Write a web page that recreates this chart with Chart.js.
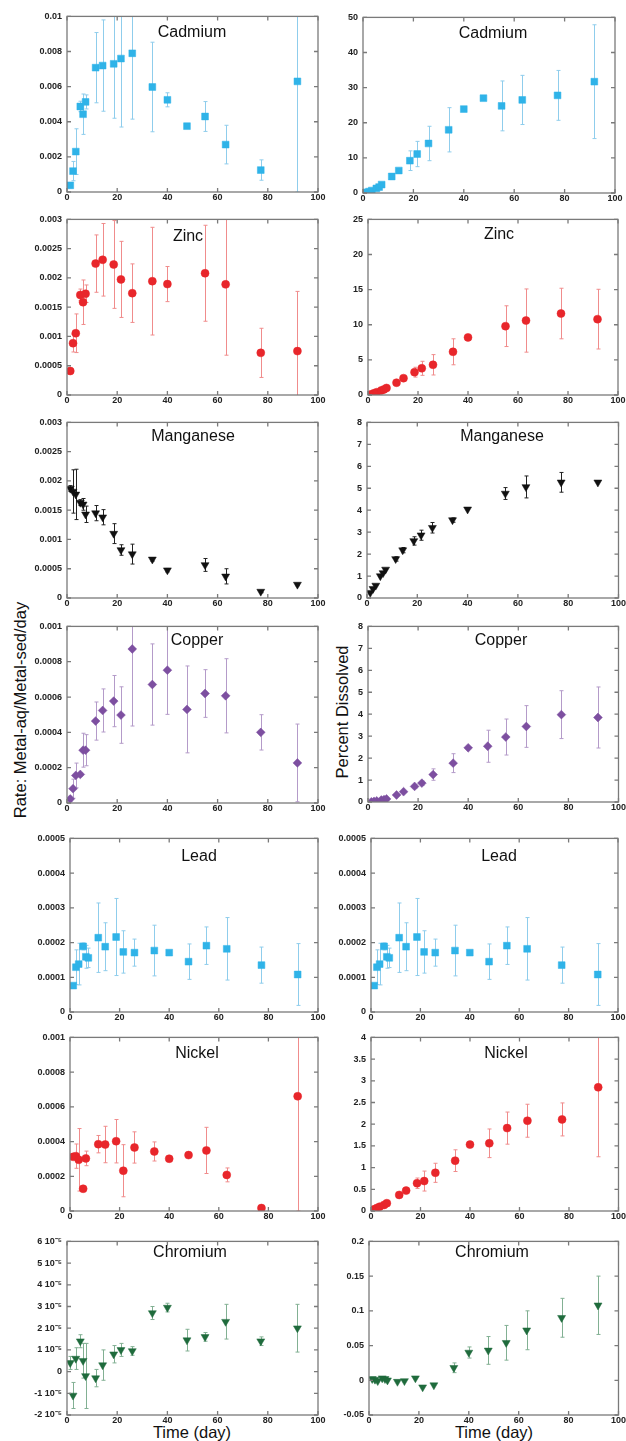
<!DOCTYPE html>
<html>
<head>
<meta charset="utf-8">
<script src="https://cdn.jsdelivr.net/npm/chart.js@4"></script>
<style>
  body { margin:0; background:#fff; width:626px; height:1441px; position:relative; overflow:hidden;
         font-family:"Liberation Sans", Arial, sans-serif; }
  .panel { position:absolute; }
  .lbl { position:absolute; color:#111; font-size:16.5px; white-space:nowrap; }
</style>
</head>
<body>
<div class="lbl" style="left:20px;top:710px;transform:translate(-50%,-50%) rotate(-90deg)">Rate: Metal-aq/Metal-sed/day</div>
<div class="lbl" style="left:342px;top:712px;transform:translate(-50%,-50%) rotate(-90deg)">Percent Dissolved</div>
<div class="lbl" style="left:192px;top:1432px;transform:translate(-50%,-50%)">Time (day)</div>
<div class="lbl" style="left:494px;top:1432px;transform:translate(-50%,-50%)">Time (day)</div>
<script>
// sampling days
const days   = [1.3, 2.4, 3.5, 5.3, 6.4, 7.4, 11.4, 14.2, 18.6, 21.5, 26, 34, 40, 47.8, 55, 63.2, 77.2, 91.8];
const days17 = [1.3, 2.4, 3.5, 5.3, 6.4, 7.4, 11.4, 14.2, 18.6, 21.5, 26, 34, 40, 55, 63.2, 77.2, 91.8];
const niDays = [1.3, 2.4, 3.5, 5.3, 6.4, 11.4, 14.2, 18.6, 21.5, 26, 34, 40, 47.8, 55, 63.2, 77.2, 91.8];

// Cadmium
const cdRate    = [0.38e-3, 1.19e-3, 2.3e-3, 4.87e-3, 4.43e-3, 5.13e-3, 7.08e-3, 7.2e-3, 7.3e-3, 7.6e-3, 7.9e-3, 5.98e-3, 5.25e-3, 3.75e-3, 4.3e-3, 2.7e-3, 1.25e-3, 6.3e-3];
const cdRateErr = [0.15e-3, 0.55e-3, 1.3e-3, 0.3e-3, 1.15e-3, 0.4e-3, 2.0e-3, 2.6e-3, 3.1e-3, 3.9e-3, 3.75e-3, 2.55e-3, 0.4e-3, 0, 0.85e-3, 1.1e-3, 0.58e-3, 6.3e-3];
const cdPct     = [0.2, 0.4, 0.7, 1.3, 1.7, 2.4, 4.7, 6.4, 9.2, 11.1, 14.1, 18.0, 23.9, 27.0, 24.8, 26.5, 27.8, 31.7];
const cdPctErr  = [0, 0, 0, 0, 0, 0, 0.3, 0.6, 2.8, 3.6, 4.9, 6.3, 0.5, 0, 7.1, 7.0, 7.1, 16.2];

// Zinc
const znRate    = [0.41e-3, 0.885e-3, 1.055e-3, 1.71e-3, 1.585e-3, 1.73e-3, 2.245e-3, 2.31e-3, 2.23e-3, 1.975e-3, 1.74e-3, 1.945e-3, 1.895e-3, 2.08e-3, 1.89e-3, 0.72e-3, 0.75e-3];
const znRateErr = [0.05e-3, 0.15e-3, 0.33e-3, 0.1e-3, 0.38e-3, 0.15e-3, 0.49e-3, 0.62e-3, 0.75e-3, 0.65e-3, 0.5e-3, 0.92e-3, 0.3e-3, 0.82e-3, 1.21e-3, 0.42e-3, 1.02e-3];
const znPct     = [0.1, 0.25, 0.4, 0.65, 0.8, 1.0, 1.75, 2.4, 3.25, 3.8, 4.3, 6.15, 8.2, 9.8, 10.6, 11.6, 10.8];
const znPctErr  = [0, 0, 0, 0, 0, 0, 0.2, 0.3, 0.7, 1.0, 1.45, 1.85, 0, 2.9, 4.5, 3.6, 4.25];

// Manganese
const mnRate    = [1.87e-3, 1.82e-3, 1.77e-3, 1.63e-3, 1.6e-3, 1.43e-3, 1.45e-3, 1.38e-3, 1.1e-3, 0.82e-3, 0.75e-3, 0.66e-3, 0.475e-3, 0.565e-3, 0.37e-3, 0.11e-3, 0.23e-3];
const mnRateErr = [0.05e-3, 0.37e-3, 0.43e-3, 0.05e-3, 0.1e-3, 0.14e-3, 0.13e-3, 0.13e-3, 0.17e-3, 0.09e-3, 0.17e-3, 0.03e-3, 0.03e-3, 0.11e-3, 0.13e-3, 0.02e-3, 0.02e-3];
const mnPct     = [0.24, 0.42, 0.57, 1.0, 1.14, 1.3, 1.78, 2.18, 2.6, 2.86, 3.2, 3.55, 4.04, 4.76, 5.06, 5.27, 5.27];
const mnPctErr  = [0, 0, 0, 0, 0, 0, 0.1, 0.12, 0.19, 0.23, 0.24, 0.1, 0, 0.27, 0.5, 0.45, 0];

// Copper
const cuRate    = [0.23e-4, 0.81e-4, 1.56e-4, 1.62e-4, 2.99e-4, 2.99e-4, 4.64e-4, 5.24e-4, 5.77e-4, 4.98e-4, 8.72e-4, 6.71e-4, 7.52e-4, 5.3e-4, 6.2e-4, 6.07e-4, 4.0e-4, 2.27e-4];
const cuRateErr = [0.15e-4, 0.54e-4, 0.7e-4, 0.1e-4, 0.96e-4, 0.88e-4, 1.08e-4, 1.22e-4, 1.45e-4, 1.6e-4, 4.36e-4, 2.3e-4, 2.5e-4, 2.46e-4, 1.35e-4, 2.1e-4, 1.0e-4, 2.2e-4];
const cuPct     = [0.01, 0.03, 0.05, 0.09, 0.11, 0.14, 0.32, 0.47, 0.71, 0.86, 1.25, 1.77, 2.47, 2.54, 2.96, 3.44, 3.98, 3.85];
const cuPctErr  = [0, 0, 0, 0, 0, 0, 0, 0, 0.08, 0.1, 0.26, 0.43, 0, 0.73, 0.82, 0.95, 1.09, 1.39];

// Lead (the right-hand lead panel repeats the rate values)
const pbRate    = [0.76e-4, 1.29e-4, 1.38e-4, 1.89e-4, 1.59e-4, 1.56e-4, 2.14e-4, 1.88e-4, 2.16e-4, 1.73e-4, 1.71e-4, 1.77e-4, 1.71e-4, 1.45e-4, 1.91e-4, 1.82e-4, 1.35e-4, 1.08e-4];
const pbRateErr = [0.05e-4, 0.5e-4, 0.6e-4, 0.1e-4, 0.33e-4, 0.28e-4, 1.0e-4, 0.69e-4, 1.11e-4, 0.61e-4, 0.39e-4, 0.73e-4, 0, 0.51e-4, 0.54e-4, 0.9e-4, 0.52e-4, 0.89e-4];

// Nickel
const niRate    = [3.12e-4, 3.16e-4, 2.95e-4, 1.28e-4, 3.03e-4, 3.85e-4, 3.83e-4, 4.02e-4, 2.32e-4, 3.66e-4, 3.43e-4, 3.01e-4, 3.22e-4, 3.49e-4, 2.08e-4, 0.17e-4, 6.61e-4];
const niRateErr = [0.1e-4, 0.7e-4, 1.8e-4, 0.1e-4, 0.42e-4, 0.5e-4, 1.05e-4, 1.25e-4, 1.5e-4, 0.9e-4, 0.55e-4, 0, 0, 1.33e-4, 0.4e-4, 0, 6.61e-4];
const niPct     = [0.04, 0.07, 0.1, 0.14, 0.18, 0.37, 0.47, 0.64, 0.69, 0.88, 1.16, 1.53, 1.56, 1.91, 2.08, 2.11, 2.85];
const niPctErr  = [0, 0, 0, 0, 0, 0, 0.05, 0.12, 0.23, 0.22, 0.25, 0, 0.33, 0.37, 0.38, 0.38, 1.6];

// Chromium
const crRate    = [0.4e-5, -1.1e-5, 0.6e-5, 1.4e-5, 0.5e-5, -0.2e-5, -0.3e-5, 0.3e-5, 0.8e-5, 1.0e-5, 0.95e-5, 2.7e-5, 2.95e-5, 1.45e-5, 1.6e-5, 2.3e-5, 1.4e-5, 2.0e-5];
const crRateErr = [0.3e-5, 0.6e-5, 0.5e-5, 0.3e-5, 0.8e-5, 1.5e-5, 0.4e-5, 0.7e-5, 0.4e-5, 0.3e-5, 0.2e-5, 0.3e-5, 0.2e-5, 0.5e-5, 0.2e-5, 0.8e-5, 0.2e-5, 1.1e-5];
const crPct     = [0.002, 0.001, -0.001, 0.003, 0.002, 0, -0.002, -0.001, 0.003, -0.01, -0.007, 0.018, 0.04, 0.043, 0.054, 0.072, 0.09, 0.108];
const crPctErr  = [0, 0, 0, 0, 0, 0, 0, 0, 0, 0, 0, 0.007, 0.008, 0.02, 0.025, 0.028, 0.028, 0.042];

const BLUE = '#2fb3e8', BLUE_E = '#8fcdec';
const RED = '#e8262b', RED_E = '#f08c8c';
const BLACK = '#111', BLACK_E = '#222';
const PURPLE = '#7d4fa0', PURPLE_E = '#b49bc9';
const GREEN = '#1f6b3c', GREEN_E = '#82b093';

const tickFont = { family: '"Liberation Sans", Arial, sans-serif', size: 9, weight: 'bold' };
const fmtNum = v => String(parseFloat(Number(v).toPrecision(6)));
const fmtE5 = v => { const n = Math.round(v * 1e5); return n === 0 ? '0' : n + ' 10\u207B\u2075'; };

// error bars drawn through the chart's scales
const errorBars = {
  id: 'errorBars',
  beforeDatasetsDraw(chart) {
    const { ctx, chartArea: a, scales: { x, y } } = chart;
    ctx.save();
    ctx.beginPath();
    ctx.rect(a.left, a.top, a.right - a.left, a.bottom - a.top);
    ctx.clip();
    chart.data.datasets.forEach(ds => {
      if (!ds.err) return;
      ctx.strokeStyle = ds.errColor;
      ctx.lineWidth = 1;
      ds.data.forEach((p, i) => {
        const e = ds.err[i];
        if (!e) return;
        const px = Math.round(x.getPixelForValue(p.x)) + 0.5;
        const y1 = y.getPixelForValue(p.y + e), y2 = y.getPixelForValue(p.y - e);
        ctx.beginPath();
        ctx.moveTo(px, y1); ctx.lineTo(px, y2);
        ctx.moveTo(px - 2, y1); ctx.lineTo(px + 2, y1);
        ctx.moveTo(px - 2, y2); ctx.lineTo(px + 2, y2);
        ctx.stroke();
      });
    });
    ctx.restore();
  }
};

// box frame with inward tick marks on all four sides
const frame = {
  id: 'frame',
  afterDatasetsDraw(chart) {
    const { ctx, chartArea: a, scales: { x, y } } = chart;
    ctx.save();
    ctx.strokeStyle = '#7a7a7a';
    ctx.lineWidth = 1.3;
    ctx.strokeRect(a.left, a.top, a.right - a.left, a.bottom - a.top);
    ctx.beginPath();
    x.ticks.forEach(t => {
      const px = x.getPixelForValue(t.value);
      ctx.moveTo(px, a.bottom); ctx.lineTo(px, a.bottom - 4);
      ctx.moveTo(px, a.top); ctx.lineTo(px, a.top + 4);
    });
    y.ticks.forEach(t => {
      const py = y.getPixelForValue(t.value);
      ctx.moveTo(a.left, py); ctx.lineTo(a.left + 4, py);
      ctx.moveTo(a.right, py); ctx.lineTo(a.right - 4, py);
    });
    ctx.stroke();
    ctx.restore();
  }
};

const panelName = {
  id: 'panelName',
  afterDraw(chart, args, opts) {
    const ctx = chart.ctx;
    ctx.save();
    ctx.font = '16px "Liberation Sans", Arial, sans-serif';
    ctx.fillStyle = '#111';
    ctx.textAlign = 'center';
    ctx.textBaseline = 'middle';
    ctx.fillText(opts.text, opts.x, opts.y);
    ctx.restore();
  }
};

function panel(o) {
  const [l, t, r, b] = o.rect;
  const cl = o.side === 'L' ? 0 : 328, cr = o.side === 'L' ? 328 : 626;
  const padTop = 9, xH = 20;
  const top = t - padTop;
  const div = document.createElement('div');
  div.className = 'panel';
  Object.assign(div.style, { left: cl + 'px', top: top + 'px', width: (cr - cl) + 'px', height: (b - t + padTop + xH) + 'px' });
  const cv = document.createElement('canvas');
  div.appendChild(cv);
  document.body.appendChild(div);

  new Chart(cv, {
    type: 'scatter',
    data: {
      datasets: [{
        data: o.x.map((d, i) => ({ x: d, y: o.y[i] })),
        err: o.err,
        errColor: o.errColor,
        pointStyle: o.style,
        pointRadius: o.radius,
        pointHoverRadius: o.radius,
        pointRotation: o.rot || 0,
        pointBackgroundColor: o.color,
        pointBorderColor: o.color,
        pointBorderWidth: 0.5
      }]
    },
    options: {
      animation: false,
      responsive: true,
      maintainAspectRatio: false,
      events: [],
      layout: { padding: { left: 0, top: padTop, right: cr - r, bottom: 0 } },
      plugins: {
        legend: { display: false },
        tooltip: { enabled: false },
        panelName: { text: o.name, x: o.namePos[0] - cl, y: o.namePos[1] - top }
      },
      scales: {
        x: {
          type: 'linear', min: 0, max: 100,
          ticks: { stepSize: 20, font: tickFont, color: '#222', padding: 0, maxRotation: 0 },
          grid: { display: false, drawTicks: false }, border: { display: false },
          afterFit(s) { s.height = xH; }
        },
        y: {
          type: 'linear', min: o.min, max: o.max,
          ticks: { stepSize: o.step, font: tickFont, color: '#222', padding: 5, autoSkip: false, callback: o.fmt || fmtNum },
          grid: { display: false, drawTicks: false }, border: { display: false },
          afterFit(s) { s.width = l - cl; }
        }
      }
    },
    plugins: [errorBars, frame, panelName]
  });
}

const SQ = { style: 'rect', radius: 4.8 };
const CI = { style: 'circle', radius: 4 };
const TR = { style: 'triangle', radius: 4.6, rot: 180 };
const DI = { style: 'rectRot', radius: 4.4 };

// row 1 - Cadmium
panel({ side: 'L', rect: [67, 15, 318, 192], name: 'Cadmium', namePos: [192, 33], x: days, y: cdRate, err: cdRateErr, min: 0, max: 0.01, step: 0.002, color: BLUE, errColor: BLUE_E, ...SQ });
panel({ side: 'R', rect: [363, 16, 615, 193], name: 'Cadmium', namePos: [493, 34], x: days, y: cdPct, err: cdPctErr, min: 0, max: 50, step: 10, color: BLUE, errColor: BLUE_E, ...SQ });
// row 2 - Zinc
panel({ side: 'L', rect: [67, 218, 318, 395], name: 'Zinc', namePos: [188, 237], x: days17, y: znRate, err: znRateErr, min: 0, max: 0.003, step: 0.0005, color: RED, errColor: RED_E, ...CI });
panel({ side: 'R', rect: [368, 218, 618, 395], name: 'Zinc', namePos: [499, 235], x: days17, y: znPct, err: znPctErr, min: 0, max: 25, step: 5, color: RED, errColor: RED_E, ...CI });
// row 3 - Manganese
panel({ side: 'L', rect: [67, 421, 318, 598], name: 'Manganese', namePos: [193, 437], x: days17, y: mnRate, err: mnRateErr, min: 0, max: 0.003, step: 0.0005, color: BLACK, errColor: BLACK_E, ...TR });
panel({ side: 'R', rect: [367, 421, 619, 598], name: 'Manganese', namePos: [502, 437], x: days17, y: mnPct, err: mnPctErr, min: 0, max: 8, step: 1, color: BLACK, errColor: BLACK_E, ...TR });
// row 4 - Copper
panel({ side: 'L', rect: [67, 625, 318, 803], name: 'Copper', namePos: [197, 641], x: days, y: cuRate, err: cuRateErr, min: 0, max: 0.001, step: 0.0002, color: PURPLE, errColor: PURPLE_E, ...DI });
panel({ side: 'R', rect: [368, 625, 620, 802], name: 'Copper', namePos: [501, 641], x: days, y: cuPct, err: cuPctErr, min: 0, max: 8, step: 1, color: PURPLE, errColor: PURPLE_E, ...DI });
// row 5 - Lead
panel({ side: 'L', rect: [70, 837, 318, 1012], name: 'Lead', namePos: [199, 857], x: days, y: pbRate, err: pbRateErr, min: 0, max: 0.0005, step: 0.0001, color: BLUE, errColor: BLUE_E, ...SQ });
panel({ side: 'R', rect: [371, 837, 618, 1012], name: 'Lead', namePos: [499, 857], x: days, y: pbRate, err: pbRateErr, min: 0, max: 0.0005, step: 0.0001, color: BLUE, errColor: BLUE_E, ...SQ });
// row 6 - Nickel
panel({ side: 'L', rect: [70, 1036, 318, 1211], name: 'Nickel', namePos: [197, 1054], x: niDays, y: niRate, err: niRateErr, min: 0, max: 0.001, step: 0.0002, color: RED, errColor: RED_E, ...CI });
panel({ side: 'R', rect: [371, 1036, 620, 1211], name: 'Nickel', namePos: [506, 1054], x: niDays, y: niPct, err: niPctErr, min: 0, max: 4, step: 0.5, color: RED, errColor: RED_E, ...CI });
// row 7 - Chromium
panel({ side: 'L', rect: [67, 1240, 318, 1415], name: 'Chromium', namePos: [190, 1253], x: days, y: crRate, err: crRateErr, min: -2e-5, max: 6e-5, step: 1e-5, fmt: fmtE5, color: GREEN, errColor: GREEN_E, ...TR });
panel({ side: 'R', rect: [369, 1240, 619, 1415], name: 'Chromium', namePos: [492, 1253], x: days, y: crPct, err: crPctErr, min: -0.05, max: 0.2, step: 0.05, color: GREEN, errColor: GREEN_E, ...TR });
</script>
</body>
</html>
